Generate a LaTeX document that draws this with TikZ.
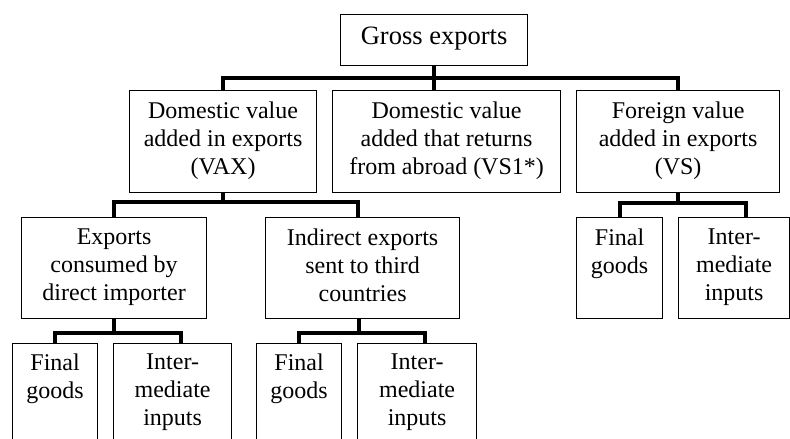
\documentclass[tikz,border=0pt]{standalone}
\usepackage{fontspec}
\setmainfont{Liberation Serif}
\begin{document}
\begin{tikzpicture}[x=1pt,y=-1pt,
  box/.style={draw, line width=1.2pt, inner sep=0pt, anchor=north west},
  txt/.style={anchor=north, align=center, inner sep=0pt, font=\fontsize{24}{28}\selectfont},
  conn/.style={line width=4pt, line join=miter}]
\clip (0,0) rectangle (790,439);

% boxes
\node[box, minimum width=187pt, minimum height=51pt]  (gross) at (340,14) {};
\node[box, minimum width=187pt, minimum height=102pt] (vax)   at (129,90) {};
\node[box, minimum width=228pt, minimum height=102pt] (dva)   at (332,90) {};
\node[box, minimum width=203pt, minimum height=102pt] (vs)    at (576,90) {};
\node[box, minimum width=185pt, minimum height=101pt] (cda)   at (21,217) {};
\node[box, minimum width=194pt, minimum height=101pt] (ind)   at (265,217) {};
\node[box, minimum width=86pt,  minimum height=101pt] (vsf)   at (576,217) {};
\node[box, minimum width=111pt, minimum height=101pt] (vsi)   at (678,217) {};
\node[box, minimum width=85pt,  minimum height=110pt] (af)    at (12,343) {};
\node[box, minimum width=118pt, minimum height=110pt] (ai)    at (113,343) {};
\node[box, minimum width=85pt,  minimum height=110pt] (bf)    at (256,343) {};
\node[box, minimum width=119pt, minimum height=110pt] (bi)    at (357,343) {};

% labels
\node[txt, font=\fontsize{26.5}{30}\selectfont] (gross-t) at ([yshift=-13pt]gross.north) {Gross exports};
\node[txt] (vax-t) at ([yshift=-11.5pt]vax.north) {Domestic value\\added in exports\\(VAX)};
\node[txt] (dva-t) at ([yshift=-11.5pt]dva.north) {Domestic value\\added that returns\\from abroad (VS1*)};
\node[txt] (vs-t)  at ([yshift=-11.5pt]vs.north)  {Foreign value\\added in exports\\(VS)};
\node[txt] (cda-t) at ([yshift=-11.5pt]cda.north) {Exports\\consumed by\\direct importer};
\node[txt] (ind-t) at ([yshift=-11.5pt]ind.north) {Indirect exports\\sent to third\\countries};
\node[txt] (vsf-t) at ([yshift=-11.5pt]vsf.north) {Final\\goods};
\node[txt] (vsi-t) at ([yshift=-11.5pt]vsi.north) {Inter-\\mediate\\inputs};
\node[txt] (af-t)  at ([yshift=-11pt]af.north) {Final\\goods};
\node[txt] (ai-t)  at ([yshift=-11pt]ai.north) {Inter-\\mediate\\inputs};
\node[txt] (bf-t)  at ([yshift=-11pt]bf.north) {Final\\goods};
\node[txt] (bi-t)  at ([yshift=-11pt]bi.north) {Inter-\\mediate\\inputs};

% bar heights
\coordinate (bar1) at (0,78);
\coordinate (bar2) at (0,202);
\coordinate (bar3) at (0,203);
\coordinate (bar4) at (0,333);

% gross exports -> three components
\draw[conn] (vax.north) |- (vs.north |- bar1) -- (vs.north);
\draw[conn] (gross.south) -- (gross.south |- dva.north);

% VAX -> direct / indirect
\draw[conn] (vax.south) -- (vax.south |- bar2);
\draw[conn] (cda.north) |- ([xshift=-4.5pt]ind.north |- bar2) -- ([xshift=-4.5pt]ind.north);

% VS -> final / intermediate
\draw[conn] (vs.south) -- (vs.south |- bar3);
\draw[conn] (vsf.north) |- ([xshift=11.5pt]vsi.north |- bar3) -- ([xshift=11.5pt]vsi.north);

% direct importer -> final / intermediate
\draw[conn] (cda.south) -- (cda.south |- bar4);
\draw[conn] (af.north) |- ([xshift=8.5pt]ai.north |- bar4) -- ([xshift=8.5pt]ai.north);

% third countries -> final / intermediate
\draw[conn] ([xshift=-3.5pt]ind.south) -- ([xshift=-3.5pt]ind.south |- bar4);
\draw[conn] (bf.north) |- ([xshift=8pt]bi.north |- bar4) -- ([xshift=8pt]bi.north);
\end{tikzpicture}
\end{document}
